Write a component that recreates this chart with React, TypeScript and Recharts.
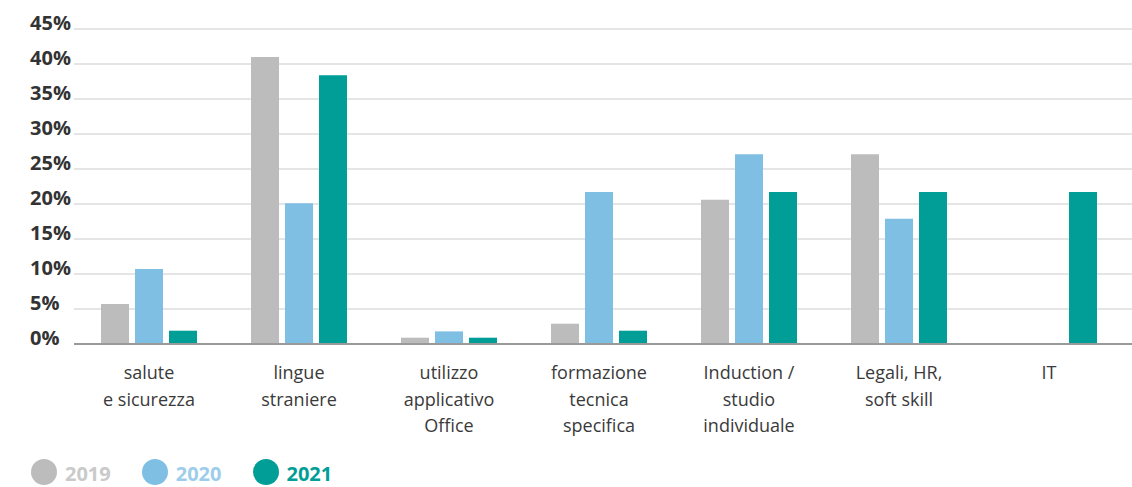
import { BarChart, Bar, XAxis, YAxis, CartesianGrid } from 'recharts';

const categories = [
  'salute\ne sicurezza',
  'lingue\nstraniere',
  'utilizzo\napplicativo\nOffice',
  'formazione\ntecnica\nspecifica',
  'Induction /\nstudio\nindividuale',
  'Legali, HR,\nsoft skill',
  'IT',
];
const y2019 = [5.7, 41.0, 0.9, 2.9, 20.6, 27.1, 0];
const y2020 = [10.7, 20.1, 1.8, 21.7, 27.1, 17.9, 0];
const y2021 = [1.9, 38.4, 0.9, 1.9, 21.7, 21.7, 21.7];
const yTicks = [0, 5, 10, 15, 20, 25, 30, 35, 40, 45];

const series = [
  { key: 'y2019', name: '2019', color: '#bbbcbb', text: '#c9caca' },
  { key: 'y2020', name: '2020', color: '#7fbfe3', text: '#9dcdea' },
  { key: 'y2021', name: '2021', color: '#009e96', text: '#009e96' },
];

const data = categories.map((c, i) => ({
  cat: c,
  y2019: y2019[i],
  y2020: y2020[i],
  y2021: y2021[i],
}));

const FONT = '"Open Sans", "DejaVu Sans", sans-serif';

function YTick(props: any) {
  const { y, payload } = props;
  return (
    <text x={30} y={y + 1} textAnchor="start" fontFamily={FONT} fontWeight={700} fontSize={20} fill="#333">
      {payload.value}%
    </text>
  );
}

function XTick(props: any) {
  const { x, y, payload } = props;
  const lines = String(payload.value).split('\n');
  return (
    <text x={x} y={y + 27} textAnchor="middle" fontFamily={FONT} fontSize={18} fill="#3a3a3a">
      {lines.map((l, i) => (
        <tspan key={i} x={x} dy={i === 0 ? 0 : 26.5}>
          {l}
        </tspan>
      ))}
    </text>
  );
}

export default function App() {
  return (
    <div style={{ position: 'absolute', left: 0, top: 0, width: 1132, height: 487, background: '#fff', overflow: 'hidden' }}>
      <BarChart
        width={1132}
        height={487}
        data={data}
        margin={{ top: 29, right: 0, bottom: 0, left: 0 }}
        barCategoryGap={27}
        barGap={6}
      >
        <CartesianGrid vertical={false} stroke="#dcdcdc" strokeWidth={1.5} />
        <XAxis
          dataKey="cat"
          interval={0}
          height={143}
          axisLine={{ stroke: '#9a9a9a', strokeWidth: 2 }}
          tickLine={false}
          tick={<XTick />}
          padding={{ left: 0, right: 8 }}
        />
        <YAxis
          width={74}
          domain={[0, 45]}
          ticks={yTicks}
          interval={0}
          axisLine={false}
          tickLine={false}
          tick={<YTick />}
        />
        {series.map((s) => (
          <Bar key={s.key} dataKey={s.key} name={s.name} fill={s.color} isAnimationActive={false} />
        ))}
      </BarChart>
      <div style={{ position: 'absolute', left: 31, top: 459, display: 'flex', alignItems: 'center', fontFamily: FONT }}>
        {series.map((s) => (
          <div key={s.key} style={{ display: 'flex', alignItems: 'center', marginRight: 31 }}>
            <div style={{ width: 26, height: 26, borderRadius: 13, background: s.color, marginRight: 8 }} />
            <span style={{ fontSize: 20, fontWeight: 700, color: s.text, lineHeight: '20px', paddingTop: 3 }}>{s.name}</span>
          </div>
        ))}
      </div>
    </div>
  );
}
